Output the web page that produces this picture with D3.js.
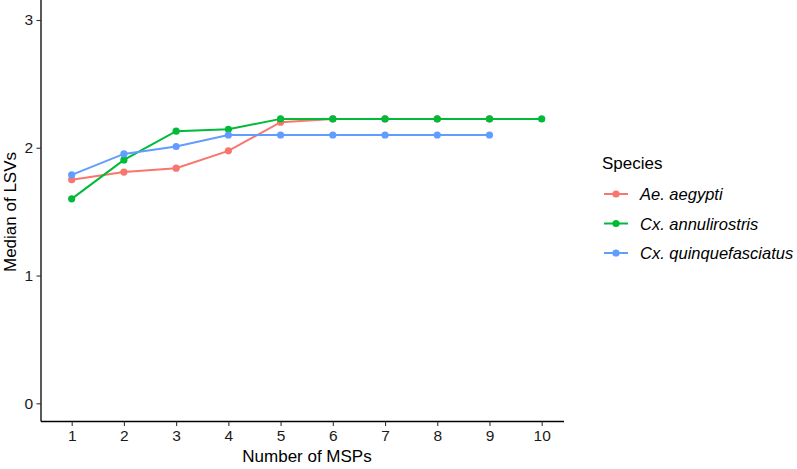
<!DOCTYPE html>
<html><head><meta charset="utf-8">
<script src="https://cdn.jsdelivr.net/npm/d3@7"></script>
<style>body{margin:0;background:#fff;} text{font-family:Arial,"Liberation Sans",sans-serif;}</style>
</head><body><svg id="c" width="797" height="469"></svg>
<script>
const msps = [1,2,3,4,5,6,7,8,9,10];
const species = ["Ae. aegypti","Cx. annulirostris","Cx. quinquefasciatus"];
const colors = ["#F8766D","#00BA38","#619CFF"];
const aegypti = [1.75,1.81,1.84,1.976,2.20,2.226,2.226,2.226,2.226];
const annulirostris = [1.60,1.905,2.13,2.145,2.226,2.226,2.226,2.226,2.226,2.226];
const quinque = [1.788,1.952,2.01,2.10,2.10,2.10,2.10,2.10,2.10];
const yTicks = [0,1,2,3];
const seriesVals = [aegypti, annulirostris, quinque];

const svg = d3.select("#c");
const x = d3.scaleLinear().domain([1,10]).range([71.7,541.7]);
const y = d3.scaleLinear().domain([0,3]).range([403.3,20]);
const left = 41, bottom = 421.5;

// axes
const xa = svg.append("g").attr("transform",`translate(0,${bottom})`)
  .call(d3.axisBottom(x).tickValues(msps).tickFormat(d3.format("d")).tickSizeOuter(0).tickSize(4.5).tickPadding(3.5));
xa.select(".domain").attr("d",`M${left},0H${564}`);
const ya = svg.append("g").attr("transform",`translate(${left},0)`)
  .call(d3.axisLeft(y).tickValues(yTicks).tickFormat(d3.format("d")).tickSizeOuter(0).tickSize(4.5).tickPadding(3.5));
ya.select(".domain").attr("d",`M0,0V${bottom}`);
[xa,ya].forEach(a=>{
  a.selectAll(".domain").attr("stroke","#000").attr("stroke-width",1.3);
  a.selectAll(".tick line").attr("stroke","#333").attr("stroke-width",1.1);
  a.selectAll("text").attr("font-size",15.5).attr("fill","#1a1a1a").attr("font-family","Arial, Liberation Sans, sans-serif");
});

// series
seriesVals.forEach((vals,i)=>{
  const pts = vals.map((v,j)=>[msps[j],v]);
  svg.append("path").datum(pts)
    .attr("d",d3.line().x(d=>x(d[0])).y(d=>y(d[1])))
    .attr("fill","none").attr("stroke",colors[i]).attr("stroke-width",2);
  svg.append("g").selectAll("circle").data(pts).join("circle")
    .attr("cx",d=>x(d[0])).attr("cy",d=>y(d[1])).attr("r",3.6).attr("fill",colors[i]);
});

// axis titles
svg.append("text").attr("x",307).attr("y",462).attr("text-anchor","middle")
  .attr("font-size",17).attr("fill","#000").text("Number of MSPs");
svg.append("text").attr("transform","translate(16,212) rotate(-90)").attr("text-anchor","middle")
  .attr("font-size",17).attr("fill","#000").text("Median of LSVs");

// legend
const lg = svg.append("g");
lg.append("text").attr("x",602).attr("y",169).attr("font-size",17).attr("fill","#000").text("Species");
species.forEach((s,i)=>{
  const cy = 194 + i*29.5;
  lg.append("line").attr("x1",604).attr("x2",628).attr("y1",cy).attr("y2",cy)
    .attr("stroke",colors[i]).attr("stroke-width",2);
  lg.append("circle").attr("cx",616).attr("cy",cy).attr("r",3.6).attr("fill",colors[i]);
  lg.append("text").attr("x",640).attr("y",cy+6).attr("font-size",16.5).attr("font-style","italic")
    .attr("fill","#000").text(s);
});
</script></body></html>
